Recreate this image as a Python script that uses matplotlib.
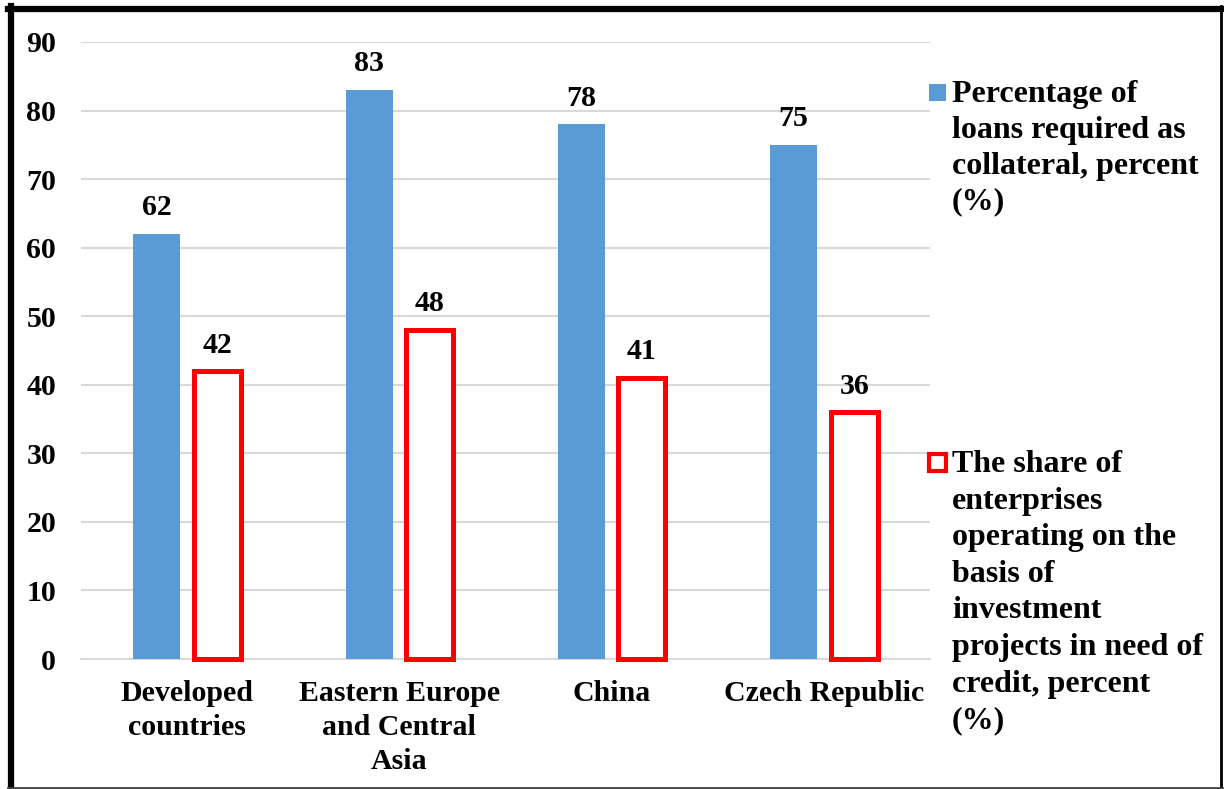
import matplotlib
matplotlib.use("Agg")
import matplotlib.pyplot as plt
from matplotlib.patches import Rectangle
from matplotlib.lines import Line2D
import numpy as np

categories = ["Developed\ncountries", "Eastern Europe\nand Central\nAsia", "China", "Czech Republic"]
collateral = [62, 83, 78, 75]
share_credit = [42, 48, 41, 36]
series_names = ["Percentage of\nloans required as\ncollateral, percent\n(%)",
                "The share of\nenterprises\noperating on the\nbasis of\ninvestment\nprojects in need of\ncredit, percent\n(%)"]
yticks = list(range(0, 91, 10))

BLUE = "#5B9BD5"
RED = "#FF0000"
FONT = "Liberation Serif"
FS = 21.5
LFS = 23

plt.rcParams['font.family'] = [FONT, 'DejaVu Serif']
plt.rcParams['font.weight'] = 'bold'

W, H = 1224, 789
fig = plt.figure(figsize=(W / 100, H / 100), dpi=100)
ax = fig.add_axes([81 / W, 1 - 659 / H, (930 - 81) / W, (659 - 42) / H])

x = np.arange(len(categories))
bw = 0.2215
off = 0.143
b1 = ax.bar(x - off, collateral, width=bw, color=BLUE, zorder=3, clip_on=False)
b2 = ax.bar(x + off, share_credit, width=bw, facecolor="white", edgecolor=RED,
            linewidth=3.6, zorder=3, clip_on=False)

for rect, v in zip(b1, collateral):
    ax.annotate(str(v), (rect.get_x() + rect.get_width() / 2, v), xytext=(0, 9),
                textcoords="offset points", ha="center", va="bottom",
                fontsize=FS, fontweight="bold")
for rect, v in zip(b2, share_credit):
    ax.annotate(str(v), (rect.get_x() + rect.get_width() / 2, v), xytext=(0, 9),
                textcoords="offset points", ha="center", va="bottom",
                fontsize=FS, fontweight="bold")

ax.set_xlim(-0.5, len(categories) - 0.5)
ax.set_ylim(0, 90)
ax.set_yticks(yticks)
ax.set_yticklabels([str(t) for t in yticks], fontsize=FS, fontweight="bold")
ax.set_xticks(x)
ax.set_xticklabels(categories, fontsize=FS, fontweight="bold", linespacing=1.33)
ax.tick_params(axis="y", length=0, pad=18)
ax.tick_params(axis="x", length=0, pad=15)
ax.yaxis.grid(True, color="#D9D9D9", linewidth=1.5, zorder=0)
ax.set_axisbelow(True)
for s in ["top", "right", "left"]:
    ax.spines[s].set_visible(False)
ax.spines["bottom"].set_color("#D9D9D9")
ax.spines["bottom"].set_linewidth(1.5)

# legend (manual, Excel-style with marker at first line)
fig.patches.append(Rectangle((929 / W, 1 - 101 / H), 17 / W, 17 / H,
                             transform=fig.transFigure, facecolor=BLUE, edgecolor="none"))
fig.text(952 / W, 1 - 80 / H, series_names[0], fontsize=LFS, fontweight="bold",
         ha="left", va="top", linespacing=1.31)
fig.patches.append(Rectangle((929 / W, 1 - 471 / H), 17 / W, 17 / H,
                             transform=fig.transFigure, facecolor="white",
                             edgecolor=RED, linewidth=3))
fig.text(952 / W, 1 - 450 / H, series_names[1], fontsize=LFS, fontweight="bold",
         ha="left", va="top", linespacing=1.345)

# outer frame
fig.add_artist(Line2D([11 / W, 11 / W], [0, 1 - 6 / H], transform=fig.transFigure,
                      color="black", linewidth=4.5))
fig.add_artist(Line2D([8 / W, 1222 / W], [1 - 9 / H, 1 - 9 / H], transform=fig.transFigure,
                      color="black", linewidth=4.5))
fig.add_artist(Line2D([1221 / W, 1221 / W], [0, 1 - 6 / H], transform=fig.transFigure,
                      color="black", linewidth=2))
fig.add_artist(Line2D([8 / W, 1222 / W], [1.5 / H, 1.5 / H], transform=fig.transFigure,
                      color="#444444", linewidth=2))

fig.savefig("out.png", dpi=100, facecolor="white")
